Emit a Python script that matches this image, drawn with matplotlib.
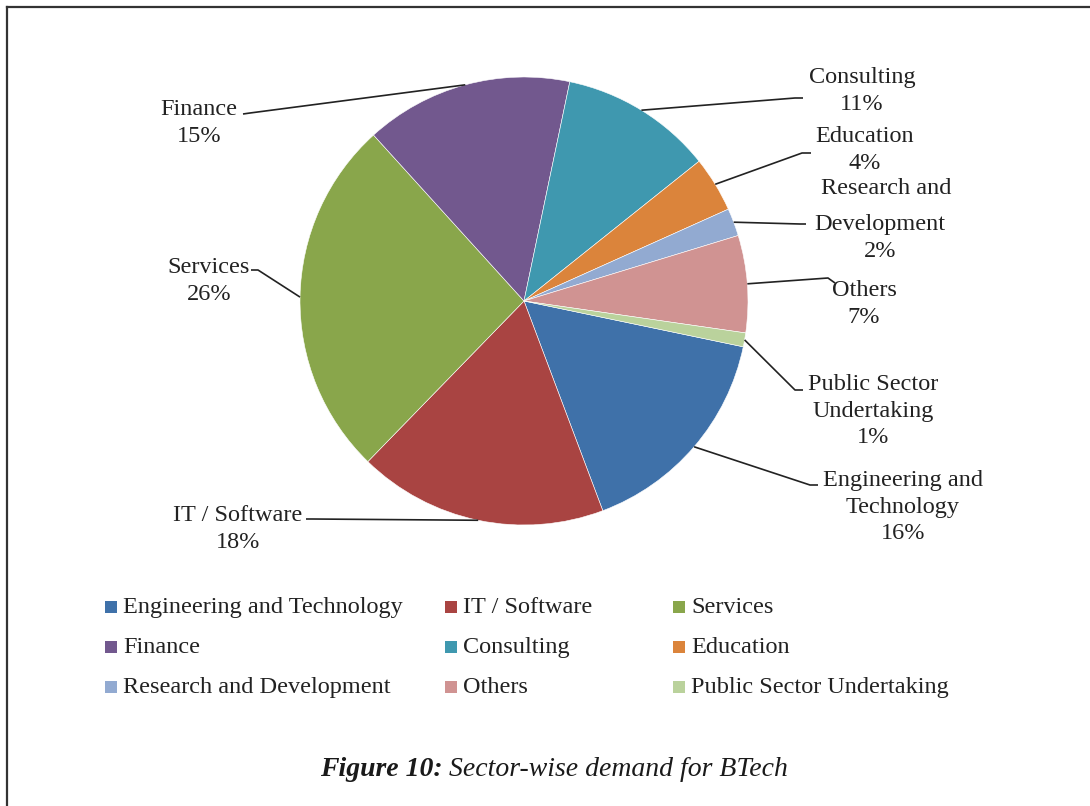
import numpy as np
import matplotlib.pyplot as plt
from matplotlib.patches import Rectangle
from matplotlib.lines import Line2D

sectors = ["Engineering and Technology", "IT / Software", "Services", "Finance",
           "Consulting", "Education", "Research and Development", "Others",
           "Public Sector Undertaking"]
share = [16, 18, 26, 15, 11, 4, 2, 7, 1]
pie_labels = ["Engineering and\nTechnology", "IT / Software", "Services", "Finance",
              "Consulting", "Education", "Research and\nDevelopment", "Others",
              "Public Sector\nUndertaking"]
colors = ["#3F71A9", "#A94442", "#89A64B", "#72588E", "#3F98AF",
          "#DB843B", "#92AAD1", "#D09392", "#BAD29C"]

W, H = 1090, 806
FONT = "Liberation Serif"
TXT = "#222222"
FS = 17.5

fig = plt.figure(figsize=(W / 100, H / 100), dpi=100)
ax = fig.add_axes([0, 0, 1, 1])

# pie in pixel coordinates (y axis flipped so angles run clockwise on screen)
cx, cy, rad = 524, 301, 224
wedges, _ = ax.pie(share, colors=colors, startangle=11.8, counterclock=True,
                   center=(cx, cy), radius=rad, frame=True,
                   wedgeprops=dict(edgecolor="white", linewidth=0.4))
ax.set_xlim(0, W)
ax.set_ylim(H, 0)
ax.set_aspect("equal")
ax.axis("off")

# label layout: text centre, knee of leader line, end of leader line
label_pos = [(903, 507), (238, 529), (209, 281), (199, 123), (862, 91),
             (865, 150), (880, 238), (864, 304), (873, 411)]
knees = [(810, 485), (312, 519), (258, 270), (250, 113), (795, 98),
         (802, 153), (800, 224), (828, 278), (795, 390)]
ends = [(818, 485), (306, 519), (251, 270), (243, 114), (803, 98),
        (811, 153), (806, 224), (835, 283), (803, 390)]

for w, lab, val, pos, kn, en in zip(wedges, pie_labels, share, label_pos, knees, ends):
    mid = np.deg2rad((w.theta1 + w.theta2) / 2)
    ax_ = cx + rad * np.cos(mid)
    ay_ = cy + rad * np.sin(mid)
    ax.plot([ax_, kn[0], en[0]], [ay_, kn[1], en[1]], color=TXT, lw=1.2,
            solid_capstyle="butt", zorder=3)
    if lab.startswith("Research"):
        # Excel left a wider gap after the first line of this label
        first, rest = lab.split("\n", 1)
        ax.text(pos[0] + 6, pos[1] - 49, first, ha="center", va="center",
                fontsize=FS, family=FONT, color=TXT)
        lab = rest
    ax.text(pos[0], pos[1], f"{lab}\n{val}%", ha="center", va="center",
            multialignment="center", fontsize=FS, family=FONT, color=TXT,
            linespacing=1.32)

# legend drawn row by row
col_x = [105, 445, 673]
row_y = [607, 647, 687]
for i, name in enumerate(sectors):
    x = col_x[i % 3]
    y = row_y[i // 3]
    ax.add_patch(Rectangle((x, y - 6), 12, 12, facecolor=colors[i], edgecolor="none"))
    ax.text(x + 18, y + 6, name, ha="left", va="baseline", fontsize=FS, family=FONT,
            color=TXT)

# caption
r = fig.canvas.get_renderer()
t1 = ax.text(0, 776, "Figure 10:", fontsize=20, family=FONT, fontstyle="italic",
             fontweight="bold", va="baseline", ha="left", color="#1a1a1a")
t2 = ax.text(0, 776, " Sector-wise demand for BTech", fontsize=20, family=FONT,
             fontstyle="italic", va="baseline", ha="left", color="#1a1a1a")
w1 = t1.get_window_extent(r).width
w2 = t2.get_window_extent(r).width
x0 = 554 - (w1 + w2) / 2
t1.set_x(x0)
t2.set_x(x0 + w1)

# page border (left and top only)
fig.add_artist(Line2D([6.5 / W, 6.5 / W], [0, 1 - 6.5 / H], color="#333333", lw=1.6,
                      transform=fig.transFigure))
fig.add_artist(Line2D([6.5 / W, 1], [1 - 6.5 / H, 1 - 6.5 / H], color="#333333", lw=1.6,
                      transform=fig.transFigure))

fig.savefig("out.png", dpi=100)
